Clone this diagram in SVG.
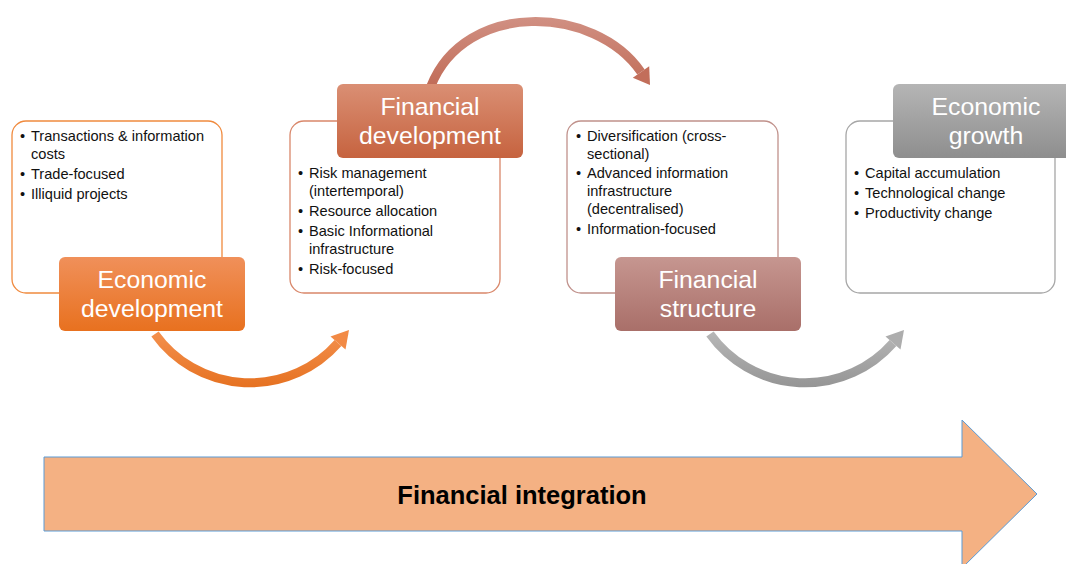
<svg xmlns="http://www.w3.org/2000/svg" width="1066" height="564" viewBox="0 0 1066 564">
<defs>
<style>
.box{fill:#ffffff;stroke-width:1.3}
.bt{font-family:"Liberation Sans",Arial,sans-serif;font-size:14.6px;fill:#111}
.tt{font-family:"Liberation Sans",Arial,sans-serif;font-size:24.8px;fill:#ffffff;text-anchor:middle}
.big{font-family:"Liberation Sans",Arial,sans-serif;font-size:25.5px;font-weight:bold;fill:#000;text-anchor:middle}
</style>
<linearGradient id="g1" x1="0" y1="0" x2="0" y2="1"><stop offset="0" stop-color="#f0905a"/><stop offset="1" stop-color="#e8711f"/></linearGradient>
<linearGradient id="g2" x1="0" y1="0" x2="0" y2="1"><stop offset="0" stop-color="#da8f74"/><stop offset="1" stop-color="#c6633f"/></linearGradient>
<linearGradient id="g3" x1="0" y1="0" x2="0" y2="1"><stop offset="0" stop-color="#c69690"/><stop offset="1" stop-color="#a96f69"/></linearGradient>
<linearGradient id="g4" x1="0" y1="0" x2="0" y2="1"><stop offset="0" stop-color="#b5b5b5"/><stop offset="1" stop-color="#8e8e8e"/></linearGradient>
<linearGradient id="a1" gradientUnits="userSpaceOnUse" x1="0" y1="330" x2="0" y2="390"><stop offset="0" stop-color="#f4914f"/><stop offset="1" stop-color="#e5701f"/></linearGradient>
<linearGradient id="a2" gradientUnits="userSpaceOnUse" x1="0" y1="15" x2="0" y2="90"><stop offset="0" stop-color="#d19184"/><stop offset="1" stop-color="#c06a55"/></linearGradient>
<linearGradient id="a3" gradientUnits="userSpaceOnUse" x1="0" y1="330" x2="0" y2="390"><stop offset="0" stop-color="#b8b8b8"/><stop offset="1" stop-color="#939393"/></linearGradient>
</defs>

<g id="integration-arrow">
<path d="M44 457 H962 V420 L1037 494 L962 568 V531 H44 Z" fill="#f4b183" stroke="#5b9bd5" stroke-width="1"/>
<text class="big" x="522" y="504">Financial integration</text>
</g>

<g id="connectors">
<path d="M155 334 A117 117 0 0 0 338 343" fill="none" stroke="url(#a1)" stroke-width="9"/>
<polygon points="349,330 345.5,349.6 330.5,336.4" fill="#f28a45"/>
<path d="M431 86 C465 0 595 5 641 72" fill="none" stroke="url(#a2)" stroke-width="9"/>
<polygon points="650,85 649.2,66.3 632.8,77.7" fill="#c26e5a"/>
<path d="M710 334 A117 117 0 0 0 893 343" fill="none" stroke="url(#a3)" stroke-width="9"/>
<polygon points="904,330 900.5,349.6 885.5,336.4" fill="#adadad"/>
</g>

<g id="node-economic-development">
<rect class="box" x="12" y="121" width="210" height="172" rx="14" stroke="#f08a3e"/>
<text class="bt" x="20" y="141">•</text><text class="bt" x="31" y="141">Transactions &amp; information</text>
<text class="bt" x="31" y="159">costs</text>
<text class="bt" x="20" y="178.5">•</text><text class="bt" x="31" y="178.5">Trade-focused</text>
<text class="bt" x="20" y="199">•</text><text class="bt" x="31" y="199">Illiquid projects</text>
<rect x="59" y="257" width="186" height="74" rx="6" fill="url(#g1)"/>
<text class="tt" x="152" y="288">Economic</text>
<text class="tt" x="152" y="317">development</text>
</g>

<g id="node-financial-development">
<rect class="box" x="290" y="121" width="210" height="172" rx="14" stroke="#d9876a"/>
<text class="bt" x="298" y="178">•</text><text class="bt" x="309" y="178">Risk management</text>
<text class="bt" x="309" y="196">(intertemporal)</text>
<text class="bt" x="298" y="216">•</text><text class="bt" x="309" y="216">Resource allocation</text>
<text class="bt" x="298" y="236">•</text><text class="bt" x="309" y="236">Basic Informational</text>
<text class="bt" x="309" y="254">infrastructure</text>
<text class="bt" x="298" y="274">•</text><text class="bt" x="309" y="274">Risk-focused</text>
<rect x="337" y="84" width="186" height="74" rx="6" fill="url(#g2)"/>
<text class="tt" x="430" y="115">Financial</text>
<text class="tt" x="430" y="144">development</text>
</g>

<g id="node-financial-structure">
<rect class="box" x="567" y="121" width="211" height="172" rx="14" stroke="#c0918b"/>
<text class="bt" x="576" y="141">•</text><text class="bt" x="587" y="141">Diversification (cross-</text>
<text class="bt" x="587" y="159">sectional)</text>
<text class="bt" x="576" y="178">•</text><text class="bt" x="587" y="178">Advanced information</text>
<text class="bt" x="587" y="196">infrastructure</text>
<text class="bt" x="587" y="214">(decentralised)</text>
<text class="bt" x="576" y="234">•</text><text class="bt" x="587" y="234">Information-focused</text>
<rect x="615" y="257" width="186" height="74" rx="6" fill="url(#g3)"/>
<text class="tt" x="708" y="288">Financial</text>
<text class="tt" x="708" y="317">structure</text>
</g>

<g id="node-economic-growth">
<rect class="box" x="846" y="121" width="209" height="172" rx="14" stroke="#a6a6a6"/>
<text class="bt" x="854" y="178">•</text><text class="bt" x="865" y="178">Capital accumulation</text>
<text class="bt" x="854" y="198">•</text><text class="bt" x="865" y="198">Technological change</text>
<text class="bt" x="854" y="218">•</text><text class="bt" x="865" y="218">Productivity change</text>
<rect x="893" y="84" width="186" height="74" rx="6" fill="url(#g4)"/>
<text class="tt" x="986" y="115">Economic</text>
<text class="tt" x="986" y="144">growth</text>
</g>
</svg>
